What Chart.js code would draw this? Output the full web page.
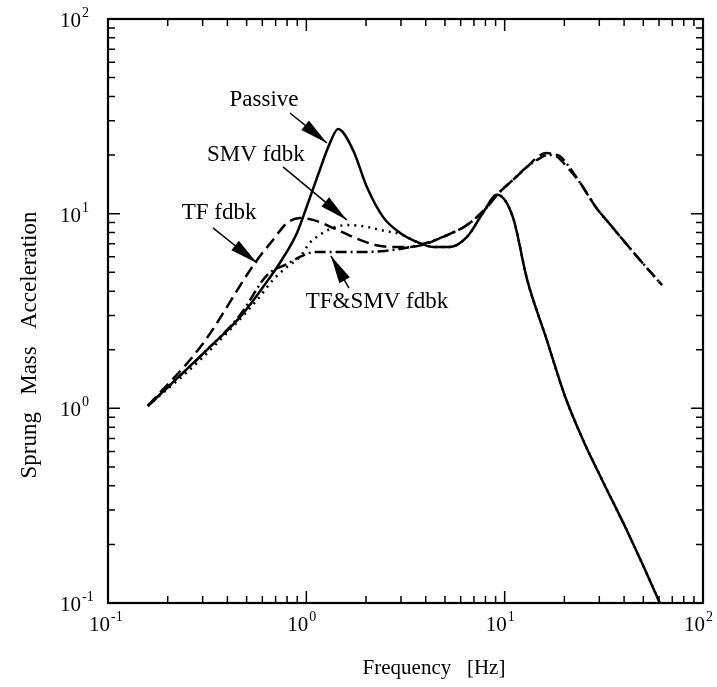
<!DOCTYPE html>
<html>
<head>
<meta charset="utf-8">
<script src="https://cdn.jsdelivr.net/npm/chart.js@4.4.0/dist/chart.umd.min.js"></script>
<style>
  body{margin:0;background:#fff;}
  #wrap{width:717px;height:687px;}
</style>
</head>
<body>
<div id="wrap"><canvas id="myChart" width="717" height="687"></canvas></div>
<script>
// values: frequency [Hz] vs sprung mass acceleration
var passiveFreq=[0.159,0.327,0.464,0.605,0.753,0.897,1.02,1.145,1.316,1.446,1.72,2.02,2.44,2.97,3.61,4.36,5.30,6.46,7.78,9.15,11.0,12.97,16.3,20.1,24.8,31.3,41.4,58.6,60.5];
var passiveAcc =[1.03,2.07,2.95,4.2,5.8,7.96,11.35,15.8,23.1,27.2,21.2,13.7,9.6,7.96,7.16,6.75,6.75,7.6,10.1,12.5,9.6,4.6,2.25,1.16,0.69,0.42,0.235,0.108,0.100];

var tfFreq=[0.159,0.298,0.551,0.679,0.80,0.929,1.08,1.40,1.76,2.22,2.73,3.33,3.87,4.89,6.46,8.15,9.15,11.0,12.97,15.1,16.3,18.4,20.6,24.0,29.2,32.8,39.5,48.1,62.1];
var tfAcc =[1.03,2.12,5.58,7.33,8.96,9.5,9.29,8.35,7.5,6.91,6.75,6.75,6.91,7.6,8.75,10.8,12.5,14.9,17.4,20.0,20.5,19.6,17.4,14.4,10.6,9.2,7.33,5.78,4.30];

var smvFreq=[0.159,0.291,0.564,0.679,0.80,0.929,1.04,1.17,1.36,1.62,2.02,2.49,2.97,3.61,4.36,5.30,6.46,7.78,9.15,11.0,12.97,16.3,20.1,24.8,31.3,41.4,58.6,60.5];
var smvAcc =[1.03,1.77,3.6,4.57,5.33,6.0,7.07,7.78,8.45,8.75,8.55,8.15,7.87,7.16,6.75,6.75,7.6,10.1,12.5,9.6,4.6,2.25,1.16,0.69,0.42,0.235,0.108,0.100];

var bothFreq=[0.159,0.308,0.464,0.634,0.80,0.929,1.11,1.48,1.98,2.49,3.15,3.87,4.89,6.46,8.15,9.15,11.0,12.97,15.1,16.3,18.4,20.6,24.0,29.2,32.8,39.5,48.1,62.1];
var bothAcc =[1.03,1.95,3.02,4.84,5.52,6.0,6.36,6.36,6.36,6.43,6.66,6.99,7.6,8.75,10.8,12.5,14.9,17.4,19.3,20.0,20.0,18.0,14.4,10.6,9.2,7.33,5.78,4.30];

// axis decades (exponents) and minor tick multipliers
var decadeExps=[-1,0,1,2];
var minorMult=[2,3,4,5,6,7,8,9];

// callouts: text centre and arrow, in data units
var callouts=[
  {text:"Passive",     x:0.612, y:38.4, from:[0.827,32.9], to:[1.27,23.1]},
  {text:"SMV fdbk",    x:0.557, y:20.0, from:[0.763,17.4], to:[1.60,9.29]},
  {text:"TF fdbk",     x:0.363, y:10.08,from:[0.338,8.45], to:[0.564,5.58]},
  {text:"TF&SMV fdbk", x:2.27,  y:3.52, from:[1.64,4.15],  to:[1.33,6.07]}
];

function pts(xs,ys){
  return xs.map(function(x,i){return {x:x,y:ys[i]};});
}

var framePlugin={
  id:'frame',
  afterDraw:function(chart){
    var ctx=chart.ctx, sx=chart.scales.x, sy=chart.scales.y, a=chart.chartArea;
    ctx.save();
    ctx.strokeStyle='#000';
    ctx.fillStyle='#000';
    ctx.lineWidth=2.2;
    ctx.strokeRect(a.left,a.top,a.right-a.left,a.bottom-a.top);

    // inward tick marks on all four sides
    ctx.lineWidth=1.5;
    decadeExps.forEach(function(e){
      var vals=[Math.pow(10,e)];
      if(e<2) minorMult.forEach(function(m){vals.push(m*Math.pow(10,e));});
      vals.forEach(function(v,i){
        var len=i==0?12:7;
        var px=sx.getPixelForValue(v), py=sy.getPixelForValue(v);
        ctx.beginPath();
        ctx.moveTo(px,a.bottom);ctx.lineTo(px,a.bottom-len);
        ctx.moveTo(px,a.top);ctx.lineTo(px,a.top+len);
        ctx.moveTo(a.left,py);ctx.lineTo(a.left+len,py);
        ctx.moveTo(a.right,py);ctx.lineTo(a.right-len,py);
        ctx.stroke();
      });
    });

    // tick labels 10^n
    ctx.textBaseline='alphabetic';
    decadeExps.forEach(function(e){
      var v=Math.pow(10,e);
      var px=sx.getPixelForValue(v), py=sy.getPixelForValue(v);
      var sup=String(e);
      // x axis
      ctx.font="21px 'Liberation Serif'";
      ctx.textAlign='right';
      ctx.fillText('10',px+2,a.bottom+28);
      ctx.font="14px 'Liberation Serif'";
      ctx.textAlign='left';
      ctx.fillText(sup,px+3,a.bottom+18);
      // y axis
      ctx.font="21px 'Liberation Serif'";
      ctx.textAlign='right';
      ctx.fillText('10',a.left-27,py+8);
      ctx.font="14px 'Liberation Serif'";
      ctx.textAlign='left';
      ctx.fillText(sup,a.left-26,py-2);
    });

    // axis titles
    ctx.font="21px 'Liberation Serif'";
    ctx.textAlign='center';
    ctx.textBaseline='middle';
    ctx.fillText('Frequency   [Hz]',434,668);
    ctx.save();
    ctx.translate(30,345);
    ctx.rotate(-Math.PI/2);
    ctx.font="23px 'Liberation Serif'";
    ctx.fillText('Sprung   Mass   Acceleration',0,0);
    ctx.restore();

    // callouts with filled arrow heads
    callouts.forEach(function(c){
      ctx.font="23px 'Liberation Serif'";
      ctx.textAlign='center';
      ctx.textBaseline='middle';
      ctx.fillText(c.text,sx.getPixelForValue(c.x),sy.getPixelForValue(c.y));
      var x0=sx.getPixelForValue(c.from[0]), y0=sy.getPixelForValue(c.from[1]);
      var x1=sx.getPixelForValue(c.to[0]), y1=sy.getPixelForValue(c.to[1]);
      var ang=Math.atan2(y1-y0,x1-x0), hl=28, hw=6;
      ctx.lineWidth=1.5;
      ctx.beginPath();ctx.moveTo(x0,y0);ctx.lineTo(x1,y1);ctx.stroke();
      ctx.beginPath();
      ctx.moveTo(x1,y1);
      ctx.lineTo(x1-hl*Math.cos(ang)+hw*Math.sin(ang), y1-hl*Math.sin(ang)-hw*Math.cos(ang));
      ctx.lineTo(x1-hl*Math.cos(ang)-hw*Math.sin(ang), y1-hl*Math.sin(ang)+hw*Math.cos(ang));
      ctx.closePath();ctx.fill();
    });
    ctx.restore();
  }
};

var ctx=document.getElementById('myChart');
var myChart=new Chart(ctx,{
  type:'scatter',
  data:{
    datasets:[
      {label:'Passive',data:pts(passiveFreq,passiveAcc),borderColor:'#000',borderWidth:2.5,showLine:true,pointRadius:0,cubicInterpolationMode:'monotone'},
      {label:'TF fdbk',data:pts(tfFreq,tfAcc),borderColor:'#000',borderWidth:2.5,borderDash:[12,6],showLine:true,pointRadius:0,cubicInterpolationMode:'monotone'},
      {label:'SMV fdbk',data:pts(smvFreq,smvAcc),borderColor:'#000',borderWidth:2.5,borderDash:[2,5],showLine:true,pointRadius:0,cubicInterpolationMode:'monotone'},
      {label:'TF&SMV fdbk',data:pts(bothFreq,bothAcc),borderColor:'#000',borderWidth:2.5,borderDash:[11,4,2,4],showLine:true,pointRadius:0,cubicInterpolationMode:'monotone'}
    ]
  },
  options:{
    responsive:false,
    animation:false,
    events:[],
    layout:{padding:{left:108,right:14,top:19,bottom:84}},
    plugins:{legend:{display:false},tooltip:{enabled:false}},
    scales:{
      x:{type:'logarithmic',min:0.1,max:100,display:false},
      y:{type:'logarithmic',min:0.1,max:100,display:false}
    }
  },
  plugins:[framePlugin]
});
</script>
</body>
</html>
